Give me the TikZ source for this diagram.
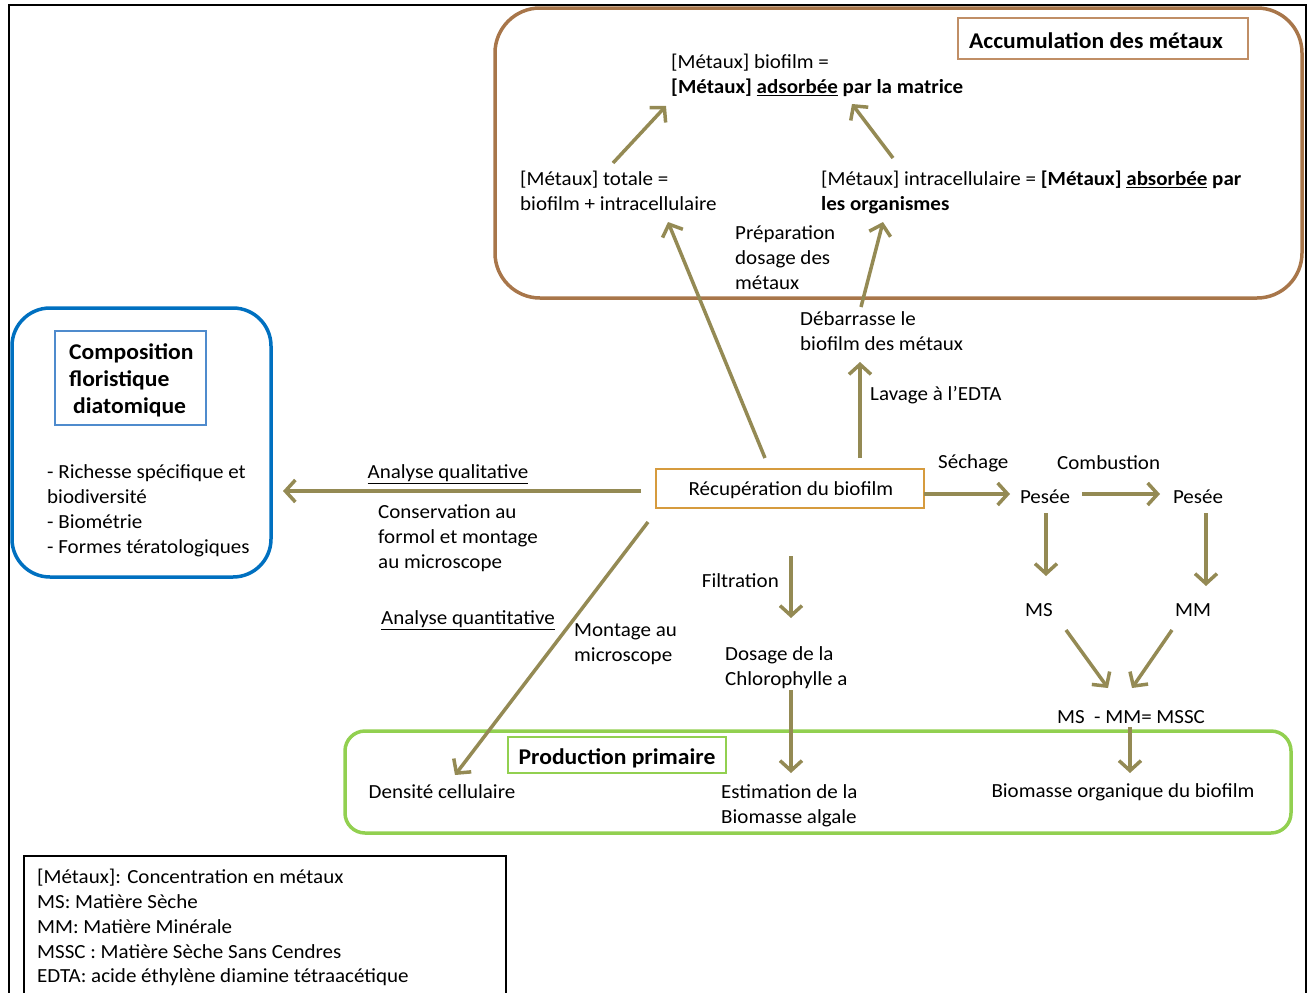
\documentclass[tikz,border=0pt]{standalone}
\usepackage{fontspec}
\setmainfont{Carlito}[FakeStretch=1.05]
\usetikzlibrary{arrows.meta}
\definecolor{arrowc}{RGB}{148,138,84}
\definecolor{brownc}{RGB}{168,118,74}
\definecolor{accc}{RGB}{192,142,102}
\definecolor{recc}{RGB}{214,155,62}
\definecolor{bluec}{RGB}{0,112,192}
\definecolor{lbluec}{RGB}{79,139,205}
\definecolor{greenc}{RGB}{146,208,80}
\begin{document}
\begin{tikzpicture}[x=1pt,y=-1pt,
  every node/.style={inner sep=0pt, font=\fontsize{20}{25}\selectfont},
  txt/.style={align=left, anchor=north west},
  title/.style={font=\fontsize{22.5}{27}\selectfont\bfseries},
  arr/.style={draw=arrowc, line width=3.5pt, -{Straight Barb[length=10pt,width=22pt]}},
  bigbox/.style={line width=3.5pt, rounded corners=#1}
]
\useasboundingbox (0,0) rectangle (1312,993);
% outer frame
\draw[line width=2.5pt] (9,993) -- (9,5) -- (1306,5) -- (1306,993);

% big rounded frames
\draw[bigbox=45pt, draw=brownc] (495,8) rectangle (1302,298);
\draw[bigbox=38pt, draw=bluec] (12,308) rectangle (271,577);
\draw[bigbox=20pt, draw=greenc] (345,731) rectangle (1291,833);

% titled boxes
\node[draw=accc, line width=1.2pt, minimum width=290pt, minimum height=41pt] (accbox) at (1103,38.5) {};
\node[title] (accum) at (1096,41) {Accumulation des métaux};
\node[draw=lbluec, line width=1.2pt, minimum width=151pt, minimum height=94pt] (compobox) at (130.5,378) {};
\node[txt, title] (compo) at (69,343) {Composition\\floristique\\\hspace{4pt}diatomique};
\node[draw=greenc, line width=1.5pt, fill=white, minimum width=218pt, minimum height=36pt] (prod) at (617,755) {};
\node[title] (prodt) at (617,758) {Production primaire};
\node[draw=recc, line width=1.2pt, minimum width=268pt, minimum height=39pt] (recup) at (790,488.5) {};
\node (recupt) at (791,490.5) {Récupération du biofilm};

% texts in accumulation area
\node[txt] (met1) at (671,54) {[Métaux] biofilm =\\\textbf{[Métaux] \underline{adsorbée} par la matrice}};
\node[txt] (totale) at (520,171) {[Métaux] totale =\\biofilm + intracellulaire};
\node[txt] (intra) at (821,171) {[Métaux] intracellulaire = \textbf{[Métaux] \underline{absorbée} par}\\\textbf{les organismes}};
\node[txt] (prep) at (735,225) {Préparation\\dosage des\\métaux};
\node[txt] (debar) at (800,311) {Débarrasse le\\biofilm des métaux};
\node[anchor=west] (lavage) at (870,395) {Lavage à l’EDTA};

% left part
\node (qual) at (448,474) {\underline{Analyse qualitative}};
\node[txt] (conserv) at (378,504) {Conservation au\\formol et montage\\au microscope};
\node[txt, font=\fontsize{20}{25.3}\selectfont] (liste) at (47,464) {- Richesse spécifique et\\biodiversité\\- Biométrie\\- Formes tératologiques};

% right part
\node[anchor=west] (sechage) at (938,463) {Séchage};
\node[anchor=west] (combust) at (1057,463) {Combustion};
\node (pesee1) at (1045,497) {Pesée};
\node (pesee2) at (1198,497) {Pesée};
\node (ms) at (1039,610) {MS};
\node (mm) at (1193,610) {MM};
\node (mssc) at (1131,717) {MS\ \ - MM= MSSC};
\node (biomasse) at (1123,792) {Biomasse organique du biofilm};

% bottom middle
\node (quant) at (468,620) {\underline{Analyse quantitative}};
\node[txt] (montage) at (574,623) {Montage au\\microscope};
\node[anchor=east] (filtr) at (779,581) {Filtration};
\node[txt] (dosage) at (725,646) {Dosage de la\\Chlorophylle a};
\node[txt] (estim) at (721,784) {Estimation de la\\Biomasse algale};
\node (densite) at (442,792) {Densité cellulaire};

% legend
\draw[line width=1.2pt] (24,993) -- (24,856) -- (506,856) -- (506,993);
\node[txt, font=\fontsize{20}{24.8}\selectfont] (legende) at (37,869) {[Métaux]: Concentration en métaux\\MS: Matière Sèche\\MM: Matière Minérale\\MSSC : Matière Sèche Sans Cendres\\EDTA: acide éthylène diamine tétraacétique};

% connector end points
\coordinate (a1s) at (613,163); \coordinate (a1e) at (666,106);
\coordinate (a2s) at (893,158); \coordinate (a2e) at (852,104);
\coordinate (a3s) at (765,458); \coordinate (a3e) at (668,222);
\coordinate (a4s) at (861,307); \coordinate (a4e) at (883,222);
\coordinate (a5s) at (860,458); \coordinate (a5e) at (860,362);
\coordinate (a6s) at (641,491); \coordinate (a6e) at (283,491);
\coordinate (a7s) at (924,494); \coordinate (a7e) at (1010,494);
\coordinate (a8s) at (1082,494); \coordinate (a8e) at (1160,494);
\coordinate (a9s) at (1046,513); \coordinate (a9e) at (1046,576);
\coordinate (b1s) at (1206,513); \coordinate (b1e) at (1206,586);
\coordinate (b2s) at (1066,630); \coordinate (b2e) at (1108,688);
\coordinate (b3s) at (1172,630); \coordinate (b3e) at (1132,688);
\coordinate (b4s) at (1130,727); \coordinate (b4e) at (1130,773);
\coordinate (b5s) at (648,522); \coordinate (b5e) at (455,775);
\coordinate (b6s) at (791,556); \coordinate (b6e) at (791,618);
\coordinate (b7s) at (791,690); \coordinate (b7e) at (791,773);

\draw[arr] (a1s) -- (a1e);
\draw[arr] (a2s) -- (a2e);
\draw[arr] (a3s) -- (a3e);
\draw[arr] (a4s) -- (a4e);
\draw[arr] (a5s) -- (a5e);
\draw[arr] (a6s) -- (a6e);
\draw[arr] (a7s) -- (a7e);
\draw[arr] (a8s) -- (a8e);
\draw[arr] (a9s) -- (a9e);
\draw[arr] (b1s) -- (b1e);
\draw[arr] (b2s) -- (b2e);
\draw[arr] (b3s) -- (b3e);
\draw[arr] (b4s) -- (b4e);
\draw[arr] (b5s) -- (b5e);
\draw[arr] (b6s) -- (b6e);
\draw[arr] (b7s) -- (b7e);
\end{tikzpicture}
\end{document}
